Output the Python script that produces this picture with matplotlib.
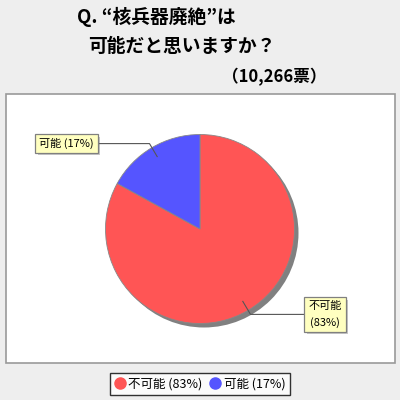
import matplotlib
matplotlib.use("Agg")
import matplotlib.pyplot as plt
from matplotlib.lines import Line2D
from matplotlib.patches import Rectangle, Circle
import numpy as np

plt.rcParams['font.family'] = ['Noto Sans CJK JP', 'DejaVu Sans']

# data
categories = ["不可能", "可能"]
shares = [83, 17]
colors = ["#FF5555", "#5555FF"]
title_lines = ["Q. “核兵器廃絶”は", "可能だと思いますか？", "（10,266票）"]

fig = plt.figure(figsize=(4, 4), dpi=100, facecolor="#EEEEEE")

# background layer in pixel coords (origin top-left)
bg = fig.add_axes([0, 0, 1, 1])
bg.set_xlim(0, 400)
bg.set_ylim(400, 0)
bg.axis("off")
bg.add_patch(Rectangle((5.5, 94), 389.5, 269, facecolor="white",
                       edgecolor="#999999", lw=1.2))
bg.text(156, 17, title_lines[0], fontsize=13.5, fontweight="bold",
        ha="center", va="center")
bg.text(182, 46, title_lines[1], fontsize=13.5, fontweight="bold",
        ha="center", va="center")
bg.text(274, 77, title_lines[2], fontsize=12, fontweight="bold",
        ha="center", va="center")

# pie
cx, cy, R = 200, 229, 94.5
ax = fig.add_axes([(cx - R) / 400, (400 - cy - R) / 400, 2 * R / 400, 2 * R / 400])
ax.add_patch(Circle((4 / R, -4 / R), 1.0, facecolor="#808080", edgecolor="none",
                    zorder=0, clip_on=False))
wedges, _ = ax.pie(shares, colors=colors, startangle=90, counterclock=False,
                   radius=1.0, wedgeprops=dict(edgecolor="#888888", linewidth=0.6))
for w in wedges:
    w.set_zorder(1)
    w.set_clip_on(False)
ax.set_xlim(-1, 1)
ax.set_ylim(-1, 1)
ax.set_aspect("equal")
ax.axis("off")

# leader lines and labels
label_pos = {0: (1.323, -0.905), 1: (-1.413, 0.905)}
box_edge = {0: 1.122, 1: -1.122}
label_text = {0: f"{categories[0]}\n({shares[0]}%)", 1: f"{categories[1]} ({shares[1]}%)"}
total = sum(shares)
start = 90.0
label_artists = []
for i, s in enumerate(shares):
    mid = start - 360.0 * s / total / 2
    start -= 360.0 * s / total
    a = np.deg2rad(mid)
    x0, y0 = 0.89 * np.cos(a), 0.89 * np.sin(a)
    x1, y1 = 1.05 * np.cos(a), 1.05 * np.sin(a)
    ax.plot([x0, x1, box_edge[i]], [y0, y1, y1], color="#555555", lw=0.8,
            clip_on=False, zorder=3)
    lx, ly = label_pos[i]
    t = ax.text(lx, ly, label_text[i], zorder=4, fontsize=8, ha="center",
                va="center", multialignment="center", linespacing=1.7,
                bbox=dict(boxstyle="square,pad=0.35", facecolor="#FFFFC0",
                          edgecolor="#808080", lw=0.9))
    label_artists.append(t)

# small drop shadows behind the label boxes
fig.canvas.draw()
for t in label_artists:
    ext = t.get_bbox_patch().get_window_extent()
    fig.patches.append(Rectangle((ext.x0 + 2.5, ext.y0 - 2.5), ext.width, ext.height,
                                 transform=None, facecolor="#C8C8C8",
                                 edgecolor="none", zorder=3.5, figure=fig))
# move the shadows below the axes content by drawing the pie axes on top
bg.set_zorder(0)
ax.set_zorder(2)
for p in fig.patches:
    p.set_zorder(1)

handles = [Line2D([], [], marker="o", ls="none", markersize=8,
                  markerfacecolor=c, markeredgecolor=c)
           for c in colors]
labels = [f"{c} ({s}%)" for c, s in zip(categories, shares)]
leg = fig.legend(handles, labels, loc="center", bbox_to_anchor=(0.5, 0.04),
                 ncol=2, fontsize=9, frameon=True, fancybox=False,
                 handlelength=0.8, handletextpad=0.3, columnspacing=0.6,
                 borderpad=0.35, borderaxespad=0)
leg.get_frame().set_edgecolor("black")
leg.get_frame().set_linewidth(1.0)

fig.savefig("out.png", dpi=100, facecolor=fig.get_facecolor())
